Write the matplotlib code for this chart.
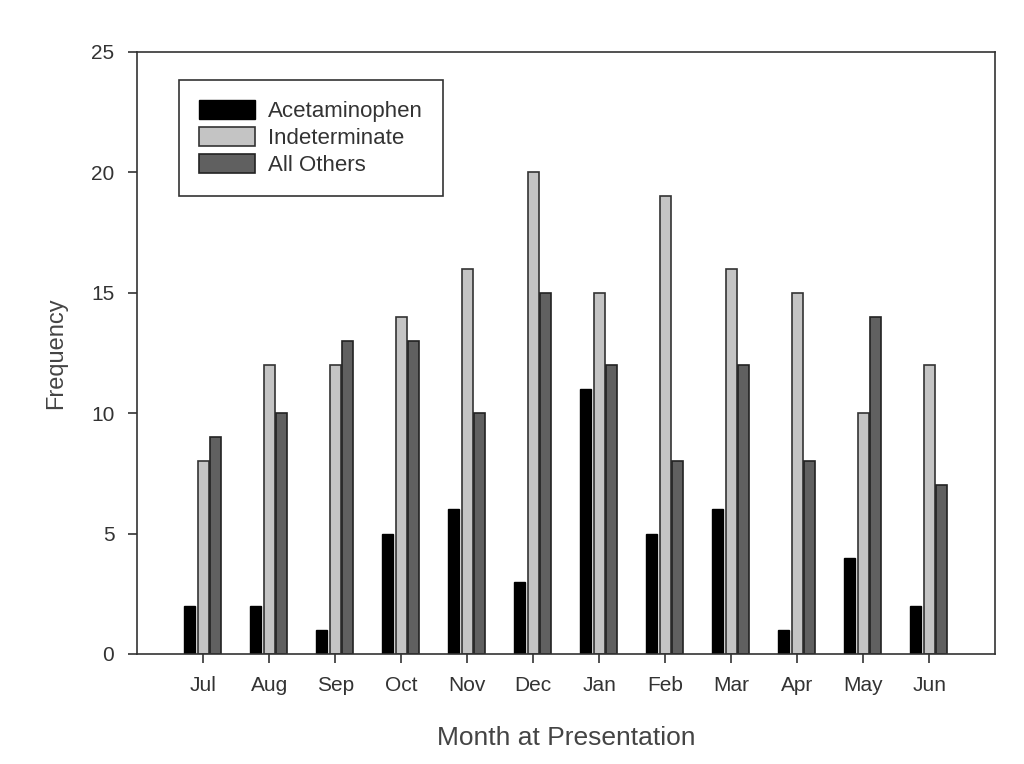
import numpy as np
import matplotlib.pyplot as plt

months = ["Jul", "Aug", "Sep", "Oct", "Nov", "Dec", "Jan", "Feb", "Mar", "Apr", "May", "Jun"]
acetaminophen = [2, 2, 1, 5, 6, 3, 11, 5, 6, 1, 4, 2]
indeterminate = [8, 12, 12, 14, 16, 20, 15, 19, 16, 15, 10, 12]
all_others = [9, 10, 13, 13, 10, 15, 12, 8, 12, 8, 14, 7]

plt.rcParams['font.family'] = ['Liberation Sans', 'DejaVu Sans']

fig = plt.figure(figsize=(10.24, 7.64), dpi=100)
ax = fig.add_axes([0.134, 0.144, 0.838, 0.788])

x = np.arange(len(months))
w = 0.17
ax.bar(x - 0.21, acetaminophen, w, color="black", edgecolor="black", lw=1, label="Acetaminophen")
ax.bar(x, indeterminate, w, color="#c4c4c4", edgecolor="#333333", lw=1.2, label="Indeterminate")
ax.bar(x + 0.19, all_others, w, color="#606060", edgecolor="#222222", lw=1.2, label="All Others")

ax.set_xlim(-1, 12)
ax.set_ylim(0, 25)
ax.set_yticks([0, 5, 10, 15, 20, 25])
ax.set_xticks(x)
ax.set_xticklabels(months)
ax.tick_params(direction="out", length=6.5, width=1.2, labelsize=15, colors="#333333")
ax.tick_params(axis="x", pad=9)
ax.tick_params(axis="y", pad=10)
for s in ax.spines.values():
    s.set_linewidth(1.2)
    s.set_color("#333333")

ax.set_xlabel("Month at Presentation", fontsize=19, color="#444444")
ax.set_ylabel("Frequency", fontsize=17, color="#444444")
ax.xaxis.set_label_coords(0.5, -0.12)
ax.yaxis.set_label_coords(-0.082, 0.5)

leg = ax.legend(loc="upper left", bbox_to_anchor=(0.049, 0.953), fontsize=16,
                fancybox=False, edgecolor="#333333", framealpha=1,
                handlelength=2.5, handleheight=0.95, labelspacing=0.2,
                borderpad=0.9, borderaxespad=0, handletextpad=0.6)
leg.get_frame().set_linewidth(1.2)
for t in leg.get_texts():
    t.set_color("#333333")

fig.savefig("out.png", dpi=100)
